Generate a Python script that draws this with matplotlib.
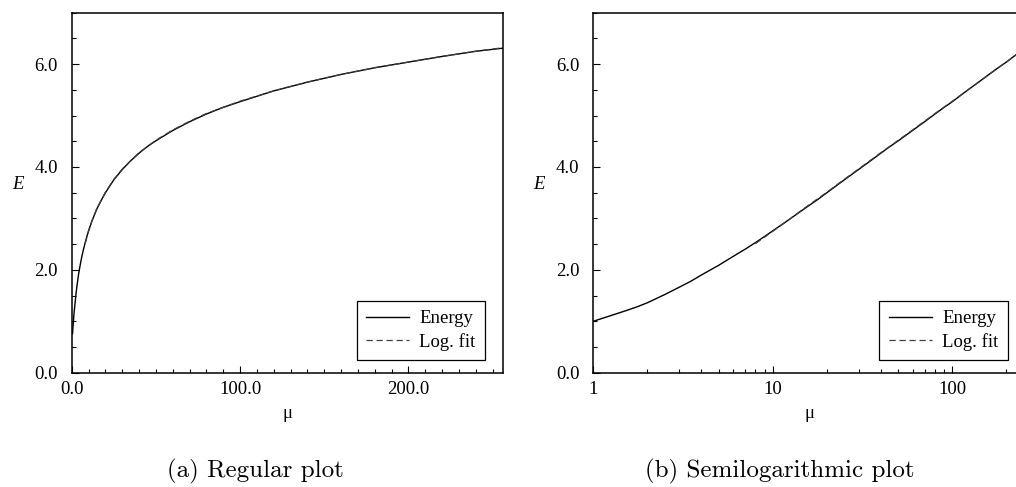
import matplotlib
matplotlib.use("Agg")
import matplotlib.pyplot as plt
import matplotlib.ticker as ticker

plt.rcParams['font.family'] = ['Liberation Serif', 'DejaVu Serif']
plt.rcParams['font.size'] = 13.5

# energy E(mu)
mu = [0.5, 0.75, 1, 1.25, 1.5, 1.75, 2, 2.5, 3, 3.5, 4, 5, 6, 7, 8, 9, 10,
      12, 15, 17.5, 20, 25, 30, 35, 40, 45, 50, 60, 70, 80, 90, 100, 120,
      140, 160, 180, 200, 220, 240, 256]
energy = [0.76, 0.89, 1.00, 1.11, 1.20, 1.28, 1.36, 1.52, 1.66, 1.78, 1.90,
          2.09, 2.26, 2.40, 2.53, 2.65, 2.76, 2.95, 3.19, 3.35, 3.50, 3.75,
          3.95, 4.12, 4.27, 4.40, 4.51, 4.71, 4.88, 5.03, 5.16, 5.27, 5.48,
          5.65, 5.80, 5.93, 6.04, 6.15, 6.25, 6.31]

# logarithmic fit, only over the large-mu range
mu_fit = [8, 10, 12, 15, 20, 25, 30, 40, 50, 60, 70, 80, 100, 120, 140, 160,
          180, 200, 220, 240, 256]
energy_fit = [2.51, 2.75, 2.95, 3.20, 3.51, 3.76, 3.96, 4.28, 4.52, 4.72,
              4.89, 5.04, 5.28, 5.48, 5.65, 5.80, 5.93, 6.04, 6.15, 6.25, 6.32]

captions = ['(a) Regular plot', '(b) Semilogarithmic plot']

fig = plt.figure(figsize=(10.16, 4.87), dpi=100)
ax1 = fig.add_axes([0.0706, 0.2347, 0.4242, 0.7392])
ax2 = fig.add_axes([0.5840, 0.2347, 0.4255, 0.7392])


def style(ax):
    ax.plot(mu, energy, color='black', lw=1.0, label='Energy')
    ax.plot(mu_fit, energy_fit, color='0.25', lw=0.9, dashes=(5, 3),
            label='Log. fit')
    ax.set_ylim(0, 7)
    ax.yaxis.set_major_locator(ticker.MultipleLocator(2))
    ax.yaxis.set_minor_locator(ticker.MultipleLocator(0.5))
    ax.yaxis.set_major_formatter(ticker.FormatStrFormatter('%.1f'))
    ax.tick_params(which='both', direction='in', top=False, right=False)
    ax.tick_params(which='major', length=5, width=0.8)
    ax.tick_params(which='minor', length=3, width=0.8)
    ax.tick_params(axis='y', pad=10)
    ax.tick_params(axis='x', pad=6)
    for s in ax.spines.values():
        s.set_linewidth(1.1)
    ax.set_xlabel('μ')
    ax.set_ylabel('E', rotation=0, fontstyle='italic')
    ax.xaxis.set_label_coords(0.5, -0.09)
    ax.yaxis.set_label_coords(-0.125, 0.5)
    leg = ax.legend(loc='lower right', bbox_to_anchor=(0.959, 0.035),
                    borderaxespad=0, fancybox=False, framealpha=1,
                    edgecolor='black', handlelength=2.3, handletextpad=0.55,
                    borderpad=0.5, labelspacing=0.3)
    leg.get_frame().set_linewidth(0.9)


style(ax1)
ax1.set_xlim(0, 256)
ax1.xaxis.set_major_locator(ticker.MultipleLocator(100))
ax1.xaxis.set_minor_locator(ticker.MultipleLocator(10))
ax1.xaxis.set_major_formatter(ticker.FormatStrFormatter('%.1f'))

style(ax2)
ax2.set_xscale('log')
ax2.set_xlim(1, 256)
ax2.xaxis.set_major_locator(ticker.LogLocator(base=10))
ax2.xaxis.set_minor_locator(ticker.LogLocator(base=10, subs=range(2, 10)))
ax2.xaxis.set_major_formatter(ticker.FormatStrFormatter('%d'))
ax2.xaxis.set_minor_formatter(ticker.NullFormatter())

# subfigure captions
fig.text(255.5 / 1016, 1 - 471 / 487, captions[0], ha='center', va='center',
         family='cmr10', fontsize=18)
fig.text(779.5 / 1016, 1 - 471 / 487, captions[1], ha='center', va='center',
         family='cmr10', fontsize=18)

fig.savefig('out.png', dpi=100)
